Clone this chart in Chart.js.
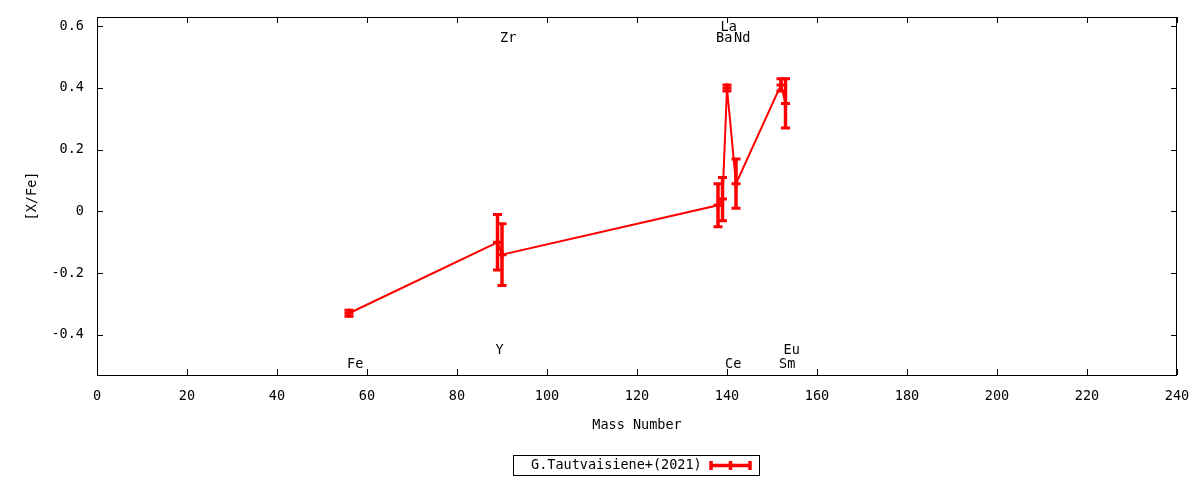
<!DOCTYPE html>
<html>
<head>
<meta charset="utf-8">
<script src="https://cdn.jsdelivr.net/npm/chart.js@4.4.1/dist/chart.umd.min.js"></script>
<style>
  html, body { margin: 0; padding: 0; background: #fff; }
  #wrap { width: 1200px; height: 480px; }
</style>
</head>
<body>
<div id="wrap"><canvas id="chart"></canvas></div>
<script>
// data
const elements    = ['Fe', 'Y', 'Zr', 'Ba', 'La', 'Ce', 'Nd', 'Sm', 'Eu'];
const massNumbers = [56, 89, 90, 138, 139, 140, 142, 152, 153];
const xFeValues   = [-0.33, -0.10, -0.14, 0.02, 0.04, 0.40, 0.09, 0.41, 0.35];
const xFeErrors   = [0.01, 0.09, 0.10, 0.07, 0.07, 0.01, 0.08, 0.02, 0.08];
const labelY      = [-0.495, -0.45, 0.56, 0.56, 0.595, -0.495, 0.56, -0.495, -0.45];
const xTicks      = [0, 20, 40, 60, 80, 100, 120, 140, 160, 180, 200, 220, 240];
const yTicks      = [-0.4, -0.2, 0, 0.2, 0.4, 0.6];
const seriesName  = 'G.Tautvaisiene+(2021)';

const RED = '#ff0000';
const FONT = "'DejaVu Sans Mono', monospace";
const FONT_SIZE = 13.5;

const points = massNumbers.map((m, i) => ({ x: m, y: xFeValues[i] }));

// frame, inner ticks, error bars, element labels, axis titles, legend
const gnuplotLook = {
    id: 'gnuplotLook',
    afterDatasetsDraw(chart) {
        const ctx = chart.ctx;
        const xs = chart.scales.x, ys = chart.scales.y;

        // error bars
        ctx.save();
        ctx.strokeStyle = RED;
        ctx.lineCap = 'butt';
        massNumbers.forEach((m, i) => {
            const px = xs.getPixelForValue(m);
            const yHi = ys.getPixelForValue(xFeValues[i] + xFeErrors[i]);
            const yLo = ys.getPixelForValue(xFeValues[i] - xFeErrors[i]);
            ctx.lineWidth = 3.5;
            ctx.beginPath();
            ctx.moveTo(px, yHi); ctx.lineTo(px, yLo);
            ctx.stroke();
            ctx.lineWidth = 3;
            ctx.beginPath();
            ctx.moveTo(px - 4.5, yHi); ctx.lineTo(px + 4.5, yHi);
            ctx.moveTo(px - 4.5, yLo); ctx.lineTo(px + 4.5, yLo);
            ctx.stroke();
        });
        ctx.restore();
    },
    afterDraw(chart) {
        const ctx = chart.ctx;
        const { left, right, top, bottom } = chart.chartArea;
        const xs = chart.scales.x, ys = chart.scales.y;

        ctx.save();
        // frame
        ctx.strokeStyle = '#000';
        ctx.lineWidth = 1;
        ctx.strokeRect(left + 0.5, top + 0.5, right - left - 1, bottom - top);

        // inward ticks, mirrored
        ctx.beginPath();
        xTicks.forEach(v => {
            const px = Math.round(xs.getPixelForValue(v)) + 0.5;
            ctx.moveTo(px, bottom); ctx.lineTo(px, bottom - 6);
            ctx.moveTo(px, top); ctx.lineTo(px, top + 6);
        });
        yTicks.forEach(v => {
            const py = Math.round(ys.getPixelForValue(v)) + 0.5;
            ctx.moveTo(left, py); ctx.lineTo(left + 6, py);
            ctx.moveTo(right, py); ctx.lineTo(right - 6, py);
        });
        ctx.stroke();

        // element labels
        ctx.fillStyle = '#000';
        ctx.font = FONT_SIZE + 'px ' + FONT;
        ctx.textAlign = 'left';
        ctx.textBaseline = 'middle';
        elements.forEach((el, i) => {
            ctx.fillText(el, xs.getPixelForValue(massNumbers[i]) - 2, ys.getPixelForValue(labelY[i]));
        });

        // axis titles
        ctx.textAlign = 'center';
        ctx.fillText('Mass Number', (left + right) / 2, 425);
        ctx.save();
        ctx.translate(32, (top + bottom) / 2);
        ctx.rotate(-Math.PI / 2);
        ctx.fillText('[X/Fe]', 0, 0);
        ctx.restore();

        // legend box
        ctx.strokeRect(513.5, 455.5, 246, 20);
        ctx.textAlign = 'left';
        ctx.fillText(seriesName, 531, 465.5);
        ctx.strokeStyle = RED;
        ctx.lineWidth = 3.5;
        ctx.beginPath();
        ctx.moveTo(710, 465.5); ctx.lineTo(751, 465.5);
        ctx.moveTo(711, 461); ctx.lineTo(711, 470);
        ctx.moveTo(730.5, 461); ctx.lineTo(730.5, 470);
        ctx.moveTo(750, 461); ctx.lineTo(750, 470);
        ctx.stroke();
        ctx.restore();
    }
};

new Chart(document.getElementById('chart'), {
    type: 'scatter',
    data: {
        datasets: [{
            label: seriesName,
            data: points,
            showLine: true,
            borderColor: RED,
            backgroundColor: RED,
            borderWidth: 2,
            pointStyle: 'cross',
            pointRadius: 4.5,
            pointBorderWidth: 3,
            tension: 0
        }]
    },
    options: {
        responsive: true,
        maintainAspectRatio: false,
        animation: false,
        layout: { padding: { top: 17, right: 23, left: 0, bottom: 0 } },
        plugins: {
            legend: { display: false },
            tooltip: { enabled: false }
        },
        scales: {
            x: {
                type: 'linear',
                min: 0,
                max: 240,
                grid: { display: false },
                border: { display: false },
                afterBuildTicks: s => { s.ticks = xTicks.map(v => ({ value: v })); },
                afterFit: s => { s.height = 105; },
                ticks: {
                    color: '#000',
                    padding: 5,
                    maxRotation: 0,
                    font: { family: FONT, size: FONT_SIZE },
                    callback: v => String(v)
                }
            },
            y: {
                type: 'linear',
                min: -0.53,
                max: 0.63,
                grid: { display: false },
                border: { display: false },
                afterBuildTicks: s => { s.ticks = yTicks.map(v => ({ value: v })); },
                afterFit: s => { s.width = 97; },
                ticks: {
                    color: '#000',
                    padding: 5,
                    font: { family: FONT, size: FONT_SIZE },
                    callback: v => (Math.abs(v) < 1e-9 ? '0' : Number(v).toFixed(1))
                }
            }
        }
    },
    plugins: [gnuplotLook]
});
</script>
</body>
</html>
